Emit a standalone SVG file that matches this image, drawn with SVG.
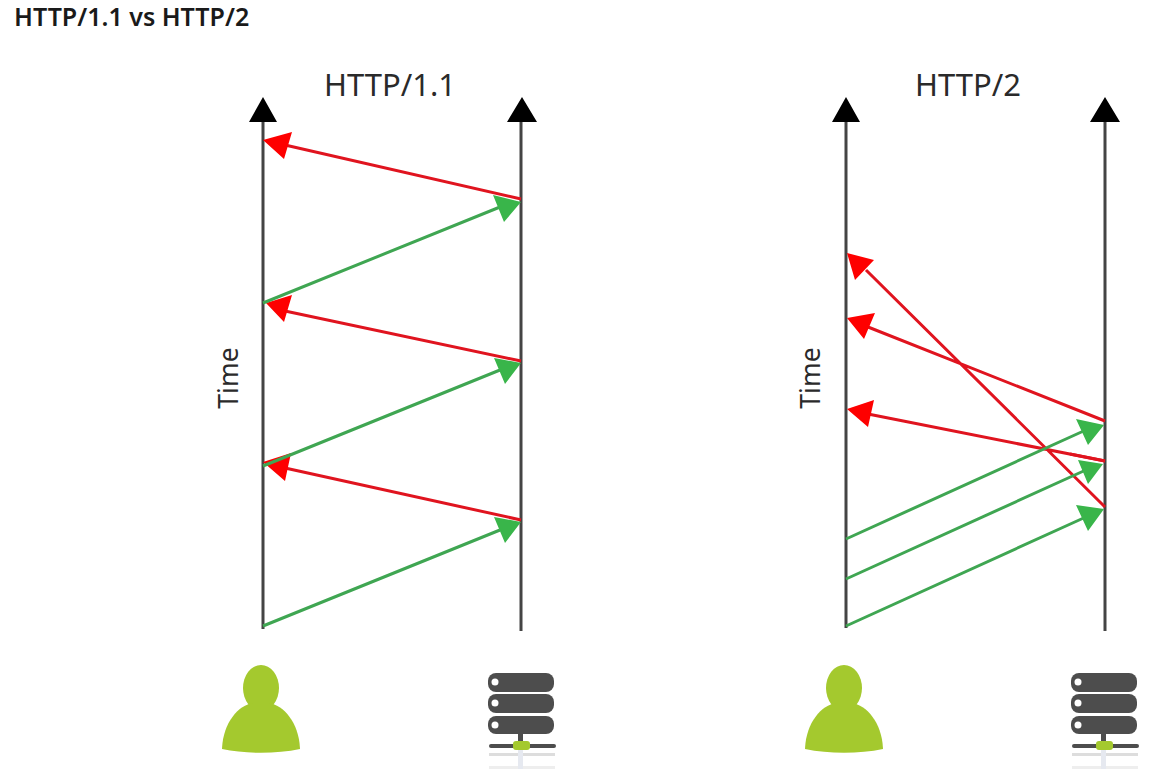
<svg xmlns="http://www.w3.org/2000/svg" width="1161" height="769" viewBox="0 0 1161 769">
<style>
text{font-family:"Noto Sans","Open Sans","Liberation Sans",sans-serif;fill:#1a1a1a}
.h{font-size:31px;fill:#2a2a2a;text-anchor:middle}
.t{font-size:26.5px;fill:#2a2a2a;text-anchor:middle}
.ax{stroke:#444;stroke-width:3;fill:none}
.tip{fill:#000}
.r{stroke:#e0141f;stroke-width:3;fill:none}
.g{stroke:#3fa652;stroke-width:3;fill:none}
.rh{fill:#fe0000}
.gh{fill:#39b54a}
.u{fill:#a4c92e}
.s{fill:#4d4d4d}
.d{fill:#fff}
</style>
<defs>
<g id="person"><ellipse cx="0" cy="24" rx="18" ry="23" class="u"/><path class="u" d="M-39 85C-38 58-22 41-8 39H8C22 41 38 58 39 85C15 90-15 90-39 85Z"/></g>
<g id="server">
<rect x="0" y="0" width="66" height="19" rx="8" class="s"/><circle cx="7" cy="9" r="3.5" class="d"/>
<rect x="0" y="21" width="66" height="19" rx="8" class="s"/><circle cx="7" cy="30" r="3.5" class="d"/>
<rect x="0" y="43" width="66" height="18" rx="8" class="s"/><circle cx="7" cy="52" r="3.5" class="d"/>
<rect x="30" y="60" width="5" height="12" class="s"/>
<rect x="1" y="71" width="67" height="4" rx="2" class="s"/>
<rect x="25" y="68" width="17" height="9" rx="3" class="u"/>
<rect x="1" y="80" width="66" height="3" fill="#ddd"/>
<rect x="1" y="93" width="66" height="3" fill="#eee"/>
<rect x="30" y="77" width="5" height="19" fill="#e6e9f0"/>
</g>
</defs>
<text x="14" y="26" font-size="25" font-weight="600">HTTP/1.1 vs HTTP/2</text>
<text id="title-11" class="h" x="390" y="96">HTTP/1.1</text>
<text id="title-2" class="h" x="968" y="96">HTTP/2</text>
<text id="time-11" class="t" transform="translate(238 378) rotate(-90)">Time</text>
<text id="time-2" class="t" transform="translate(820 378) rotate(-90)">Time</text>
<g id="connectors">
<path class="ax" d="M263 118V629M521 118V631M846 118V628M1105 118V631"/>
<path class="tip" d="M263 97L277 122H249ZM522 97L537 122H507ZM846 97L860 122H832ZM1105 97L1120 122H1090Z"/>
<path class="r" d="M521 199L285 145M521 361L285 311M521 520L285 468"/>
<path class="rh" d="M263 140L292 132L284 159ZM266 303L292 295L284 322ZM263 462L291 453L285 481Z"/>
<path class="g" d="M263 303L500 207M263 466L500 370M263 626L500 530"/>
<path class="gh" d="M521 202L493 195L504 222ZM521 363L494 358L505 384ZM521 522L494 517L505 543Z"/>
<path class="r" d="M1105 507L866 270M1105 421L868 327M1105 461L868 414"/>
<path class="g" d="M846 539L1088 429M846 579L1088 469M846 626L1088 516"/>
<path class="rh" d="M847 253L874 260L855 280ZM847 318L875 313L864 339ZM847 409L874 400L868 427Z"/>
<path class="gh" d="M1104 425L1076 419L1088 445ZM1103 464L1078 460L1088 484ZM1104 509L1076 505L1088 531Z"/>
<path class="r" d="M1105 461L1070 454"/>
</g>
<g id="client-11"><use href="#person" x="261" y="664"/></g>
<g id="server-11"><use href="#server" x="488" y="673"/></g>
<g id="client-2"><use href="#person" x="844" y="664"/></g>
<g id="server-2"><use href="#server" x="1071" y="673"/></g>
</svg>
